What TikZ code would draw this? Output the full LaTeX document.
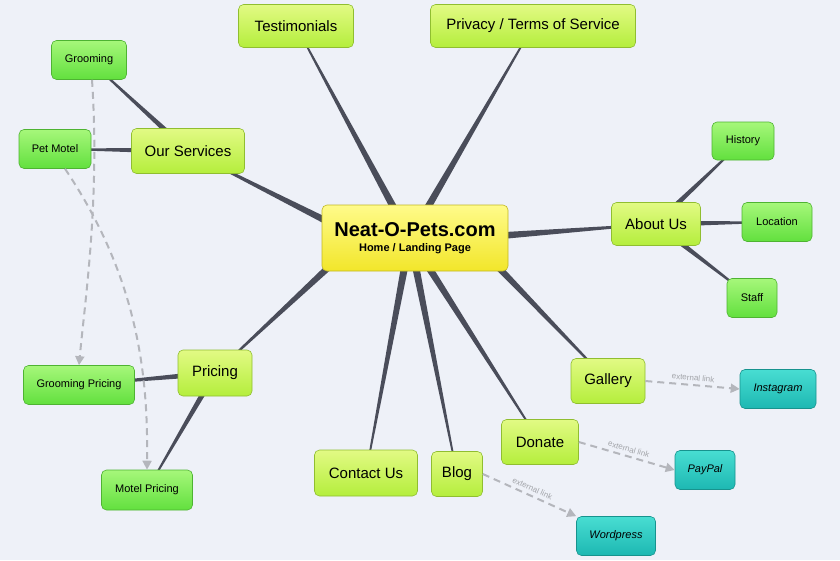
\documentclass[tikz,border=0pt]{standalone}
\usepackage{fontspec}
\setmainfont{Liberation Sans}
\usetikzlibrary{calc,arrows.meta,backgrounds}
\definecolor{bg}{HTML}{EEF1F8}
\definecolor{edge}{HTML}{4A4D5A}
\definecolor{dashcol}{HTML}{B4B6BC}
\definecolor{ytop}{HTML}{FFFB8A}
\definecolor{ybot}{HTML}{F2E62A}
\definecolor{lt}{HTML}{E2FA84}
\definecolor{lb}{HTML}{B4EE3C}
\definecolor{gt}{HTML}{A6F77A}
\definecolor{gb}{HTML}{62E03E}
\definecolor{tt}{HTML}{48DDD2}
\definecolor{tb}{HTML}{1DB8B2}
\newcommand{\taper}[3]{\fill[edge] ($(#1)!#3!90:(#2)$) -- ($(#1)!#3!-90:(#2)$) -- ($(#2)!0.6pt!90:(#1)$) -- ($(#2)!0.6pt!-90:(#1)$) -- cycle;}
\begin{document}
\begin{tikzpicture}[x=1pt,y=-1pt,
  box/.style={rounded corners=5pt,draw=#1,line width=0.6pt,inner sep=0pt,anchor=center},
  lone/.style={box=lb!80!black,top color=lt,bottom color=lb,font=\fontsize{15}{17}\selectfont},
  ltwo/.style={box=gb!80!black,top color=gt,bottom color=gb,font=\fontsize{11}{13}\selectfont},
  lext/.style={box=tb!80!black,top color=tt,bottom color=tb,font=\fontsize{11}{13}\selectfont\itshape},
  ext/.style={dashcol,line width=2pt,dash pattern=on 7pt off 5pt,-{Triangle[length=9pt,width=9pt]}},
  elab/.style={dashcol!90!black,font=\fontsize{8}{9}\selectfont,sloped,above}]
\useasboundingbox (0,0) rectangle (840,560);
\node[box=ybot!80!black,top color=ytop,bottom color=ybot,minimum width=186pt,minimum height=66pt,align=center] (c) at (415,238) {\fontsize{20}{22}\selectfont\bfseries Neat-O-Pets.com\\[3pt]\fontsize{11}{13}\selectfont\bfseries Home / Landing Page};
\node[lone,minimum width=115pt,minimum height=43pt] (tes) at (296,26) {Testimonials};
\node[lone,minimum width=205pt,minimum height=43pt] (pri) at (533,26) {Privacy / Terms of Service};
\node[lone,minimum width=113pt,minimum height=45pt] (ser) at (188,151) {Our Services};
\node[ltwo,minimum width=75pt,minimum height=39pt] (gro) at (89,60) {Grooming};
\node[ltwo,minimum width=72pt,minimum height=39pt] (mot) at (55,149) {Pet Motel};
\node[lone,minimum width=89pt,minimum height=43pt] (abo) at (656,224) {About Us};
\node[ltwo,minimum width=62pt,minimum height=38pt] (his) at (743,141) {History};
\node[ltwo,minimum width=70pt,minimum height=39pt] (loc) at (777,222) {Location};
\node[ltwo,minimum width=50pt,minimum height=39pt] (sta) at (752,298) {Staff};
\node[lone,minimum width=74pt,minimum height=46pt] (pric) at (215,373) {Pricing};
\node[ltwo,minimum width=111pt,minimum height=39pt] (gp) at (79,385) {Grooming Pricing};
\node[ltwo,minimum width=91pt,minimum height=40pt] (mp) at (147,490) {Motel Pricing};
\node[lone,minimum width=74pt,minimum height=45pt] (gal) at (608,381) {Gallery};
\node[lext,minimum width=76pt,minimum height=39pt] (ins) at (778,389) {Instagram};
\node[lone,minimum width=77pt,minimum height=45pt] (don) at (540,442) {Donate};
\node[lext,minimum width=60pt,minimum height=39pt] (pay) at (705,470) {PayPal};
\node[lone,minimum width=103pt,minimum height=46pt] (con) at (366,473) {Contact Us};
\node[lone,minimum width=51pt,minimum height=45pt] (blo) at (457,474) {Blog};
\node[lext,minimum width=79pt,minimum height=39pt] (wor) at (616,536) {Wordpress};
\begin{scope}[on background layer]
\fill[bg] (0,0) rectangle (840,560);
\coordinate (c1) at (360,238);
\coordinate (c2) at (410,238);
\coordinate (c3) at (470,238);
\taper{c2}{tes}{4pt}
\taper{c2}{pri}{4pt}
\taper{c1}{ser}{4pt}
\taper{c3}{abo}{4pt}
\taper{c1}{pric}{4pt}
\taper{c3}{gal}{4pt}
\taper{c2}{don}{4pt}
\taper{c2}{con}{4pt}
\taper{c2}{blo}{4pt}
\taper{ser}{gro}{3pt}
\taper{ser}{mot}{3pt}
\taper{abo}{his}{3pt}
\taper{abo}{loc}{3pt}
\taper{abo}{sta}{3pt}
\taper{pric}{gp}{3pt}
\taper{pric}{mp}{3pt}
\end{scope}
\draw[ext] (gro.south) ++(3,0) .. controls (100,200) and (85,300) .. (gp.north);
\draw[ext] (mot.south) ++(10,0) .. controls (140,280) and (148,380) .. (mp.north);
\draw[ext] (gal.east) -- node[elab]{external link} (ins.west);
\draw[ext] (don.east) -- node[elab]{external link} (pay.west);
\draw[ext] (blo.east) -- node[elab]{external link} (wor.north west);
\end{tikzpicture}
\end{document}
